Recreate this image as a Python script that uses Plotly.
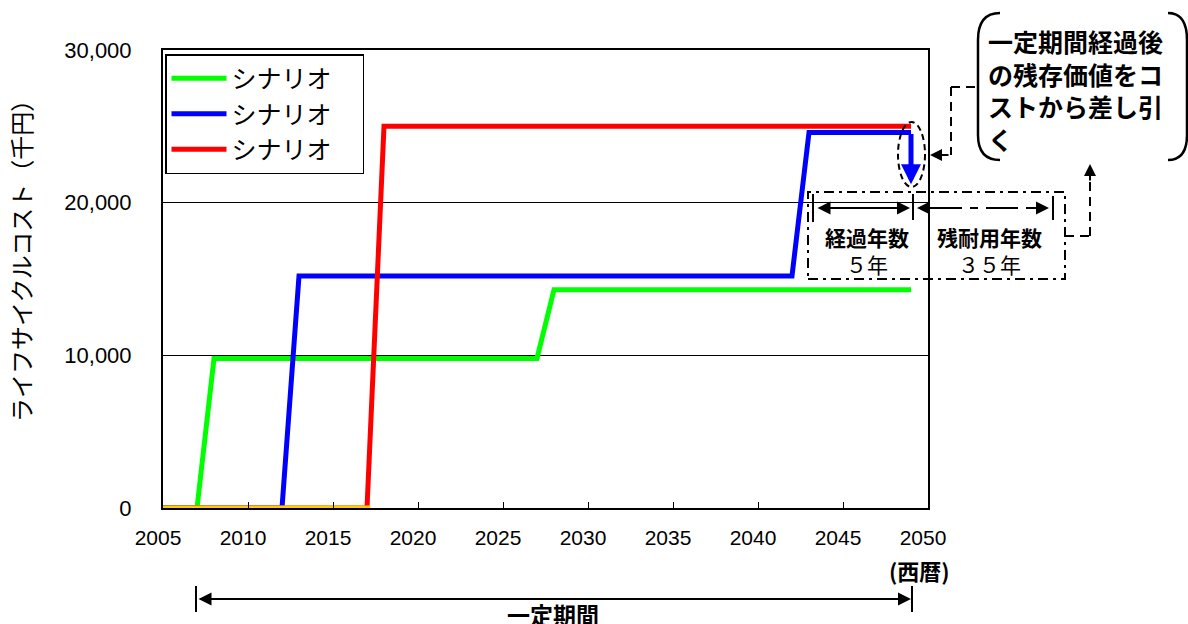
import plotly.graph_objects as go

# ---------------- data ----------------
years_green = [2005, 2007, 2008, 2027, 2028, 2049]
cost_green = [0, 0, 9800, 9800, 14300, 14300]
years_blue = [2005, 2012, 2013, 2042, 2043, 2049]
cost_blue = [0, 0, 15200, 15200, 24600, 24600]
years_red = [2005, 2017, 2018, 2049]
cost_red = [0, 0, 25000, 25000]
years_base = [2005, 2017.2]
cost_base = [0, 0]
series_names = ["シナリオ\u3000", "シナリオ\u3000", "シナリオ\u3000"]
series_colors = ["#00FF00", "#0000FF", "#FF0000"]
base_color = "#FFCC00"
x_ticks = [2005, 2010, 2015, 2020, 2025, 2030, 2035, 2040, 2045, 2050]
y_ticks = [0, 10000, 20000, 30000]
y_tick_text = ["0", "10,000", "20,000", "30,000"]
residual_end_value = 21200   # tip of the blue "subtract residual" arrow

# ---------------- geometry (pixels) ----------------
WIDTH, HEIGHT = 1188, 624
L, R, T, B = 163, 928, 50, 508
PW, PH = R - L, B - T


def PX(x):
    return (x - L) / PW


def PY(y):
    return (B - y) / PH


JP = "Noto Sans CJK JP, Liberation Sans, sans-serif"
NUM = "Liberation Sans, Arial, sans-serif"

fig = go.Figure()
for xs, ys, name, col in zip([years_green, years_blue, years_red],
                             [cost_green, cost_blue, cost_red],
                             series_names, series_colors):
    fig.add_trace(go.Scatter(x=xs, y=ys, mode="lines", name=name,
                             legendgroup=col,
                             line=dict(color=col, width=5)))
fig.add_trace(go.Scatter(x=years_base, y=cost_base, mode="lines",
                         showlegend=False, hoverinfo="skip",
                         line=dict(color=base_color, width=5)))

shapes = []
annotations = []


def line(x0, y0, x1, y1, width=2, dash="solid", color="black"):
    shapes.append(dict(type="line", xref="paper", yref="paper",
                       x0=PX(x0), y0=PY(y0), x1=PX(x1), y1=PY(y1),
                       line=dict(color=color, width=width, dash=dash)))


def arrow(tx, ty, hx, hy, width=2, color="black", both=False, size=1.2):
    a = dict(xref="paper", yref="paper", x=PX(hx), y=PY(hy),
             ax=tx - hx, ay=ty - hy, axref="pixel", ayref="pixel",
             text="", showarrow=True, arrowhead=2, arrowsize=size,
             arrowwidth=width, arrowcolor=color)
    if both:
        a.update(arrowside="end+start", startarrowhead=2, startarrowsize=size)
    annotations.append(a)


def text(x, y, s, size=20, bold=False, align="center", xanchor="center",
         angle=0, font=JP):
    annotations.append(dict(xref="paper", yref="paper", x=PX(x), y=PY(y),
                            text=("<b>%s</b>" % s) if bold else s,
                            showarrow=False, xanchor=xanchor, yanchor="middle",
                            align=align, textangle=angle,
                            font=dict(family=font, size=size, color="black")))


# y-axis title
text(20, 255, "ライフサイクルコスト（千円）", size=24, angle=-90)
# (西暦)
text(919, 570, "(西暦)", size=22, bold=True)

# bottom "一定期間" arrow
line(196, 586, 196, 612, width=2)
line(912, 586, 912, 612, width=2)
arrow(197, 599, 911, 599, width=2, both=True, size=1.3)
text(553, 614, "一定期間", size=23, bold=True)

# blue arrow showing subtraction of residual value (data coords)
annotations.append(dict(xref="x", yref="y", x=2049, y=residual_end_value,
                        ax=2049, ay=cost_blue[-1], axref="x", ayref="y",
                        text="", showarrow=True, arrowhead=2, arrowsize=0.8,
                        arrowwidth=5, arrowcolor="#0000FF"))
# dashed ellipse round it
shapes.append(dict(type="circle", xref="paper", yref="paper",
                   x0=PX(898), x1=PX(925), y0=PY(187), y1=PY(122),
                   line=dict(color="black", width=2, dash="6px,4px")))

# connector from bracket box to ellipse
line(975, 87, 951, 87, dash="9px,6px")
line(951, 87, 951, 155, dash="9px,6px")
arrow(950, 155, 930, 155, width=2, size=1.2)


def bracket(xo, xi):
    # xo: x of the vertical stroke, xi: x where the arcs end
    p = "M %f,%f Q %f,%f %f,%f L %f,%f Q %f,%f %f,%f" % (
        PX(xi), PY(13), PX(xo), PY(13), PX(xo), PY(40),
        PX(xo), PY(135), PX(xo), PY(160), PX(xi), PY(160))
    shapes.append(dict(type="path", xref="paper", yref="paper", path=p,
                       line=dict(color="black", width=2.5)))


bracket(978, 1000)
bracket(1187, 1168)
annotations.append(dict(xref="paper", yref="paper", x=PX(986), y=PY(90),
                        text="<b>一定期間経過後<br>の残存価値をコ<br>ストから差し引<br>く</b>",
                        showarrow=False, xanchor="left", yanchor="middle",
                        align="left",
                        font=dict(family=JP, size=25, color="black")))

# dash-dot box with elapsed / remaining years
shapes.append(dict(type="rect", xref="paper", yref="paper",
                   x0=PX(808), x1=PX(1065), y0=PY(279), y1=PY(192),
                   line=dict(color="black", width=2, dash="10px,5px,3px,5px")))
line(813, 194, 813, 222)
line(913, 194, 913, 220)
line(1053, 196, 1053, 220)
arrow(816, 208, 910, 208, width=2, both=True, size=1.3)
line(930, 208, 1038, 208, width=2, dash="32px,8px,8px,8px")
arrow(935, 208, 917, 208, width=2, size=1.3)
arrow(1030, 208, 1049, 208, width=2, size=1.3)
text(867, 250, "<b>経過年数</b><br>５年", size=21)
text(989, 250, "<b>残耐用年数</b><br>３５年", size=21)

# connector from box up to bracket
line(1065, 236, 1090, 236, dash="9px,6px")
line(1090, 236, 1090, 178, dash="9px,6px")
arrow(1090, 182, 1090, 164, width=2, size=1.2)

fig.update_layout(
    width=WIDTH, height=HEIGHT,
    margin=dict(l=L, r=WIDTH - R, t=T, b=HEIGHT - B, pad=0),
    paper_bgcolor="white", plot_bgcolor="white",
    showlegend=True,
    legend=dict(x=PX(165), y=PY(54), xanchor="left", yanchor="top",
                bgcolor="white", bordercolor="black", borderwidth=1.5,
                font=dict(family=JP, size=25, color="black"),
                tracegroupgap=9, traceorder="normal", itemwidth=55),
    xaxis=dict(range=[2005, 2050], tickvals=x_ticks, ticks="inside",
               ticklen=6, tickcolor="black", showgrid=False,
               showline=True, linecolor="black", linewidth=2, mirror=True,
               zeroline=False, ticklabelshift=-5, ticklabelstandoff=10,
               tickfont=dict(family=NUM, size=21, color="black")),
    yaxis=dict(range=[0, 30000], tickvals=y_ticks, ticktext=y_tick_text,
               ticks="", showgrid=True, gridcolor="black", gridwidth=1,
               showline=True, linecolor="black", linewidth=2, mirror=True,
               zeroline=False, ticklabelstandoff=25,
               tickfont=dict(family=NUM, size=22, color="black")),
    shapes=shapes, annotations=annotations,
)

fig.write_html("out.html", config={"displayModeBar": False},
               post_script="document.body.style.margin='0';")
